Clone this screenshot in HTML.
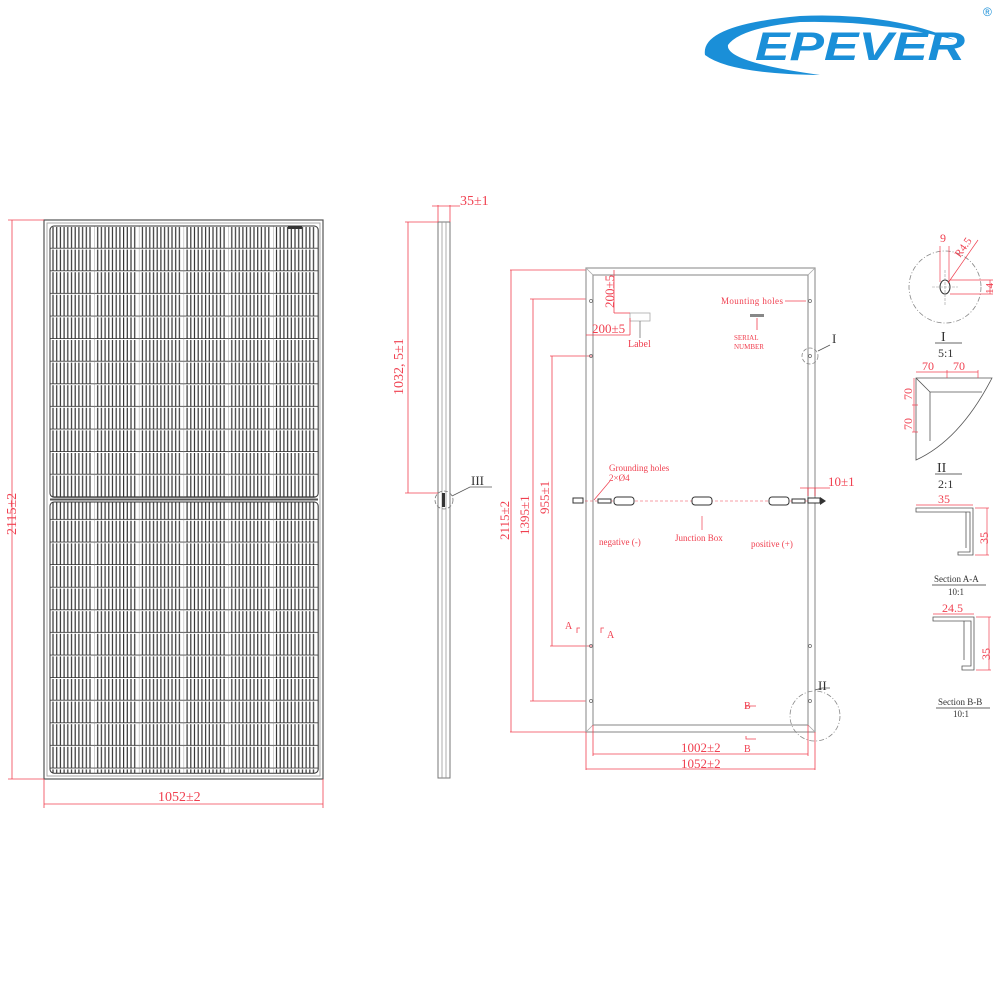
<!DOCTYPE html>
<html><head><meta charset="utf-8"><style>
html,body{margin:0;padding:0;background:#fff}
svg{display:block}
text{font-family:"Liberation Serif",serif;fill:#f04050}
</style></head><body>
<svg width="1000" height="1000" viewBox="0 0 1000 1000" xmlns="http://www.w3.org/2000/svg">
<defs>
<pattern id="cells" x="50" y="226" width="44.7" height="22.6" patternUnits="userSpaceOnUse">
  <rect x="0" y="0" width="44.7" height="22.6" fill="#fff"/>
  <g stroke="#333" stroke-width="1.2">
    <line x1="3" y1="1" x2="3" y2="22"/><line x1="6.7" y1="1" x2="6.7" y2="22"/><line x1="10.4" y1="1" x2="10.4" y2="22"/><line x1="14.1" y1="1" x2="14.1" y2="22"/><line x1="17.8" y1="1" x2="17.8" y2="22"/><line x1="21.5" y1="1" x2="21.5" y2="22"/><line x1="25.2" y1="1" x2="25.2" y2="22"/><line x1="28.9" y1="1" x2="28.9" y2="22"/><line x1="32.6" y1="1" x2="32.6" y2="22"/><line x1="36.3" y1="1" x2="36.3" y2="22"/><line x1="40" y1="1" x2="40" y2="22"/>
  </g>
  <line x1="0" y1="22.6" x2="44.7" y2="22.6" stroke="#222" stroke-width="1.5"/>
  <line x1="44.7" y1="0" x2="44.7" y2="22.6" stroke="#888" stroke-width="0.8"/>
</pattern>
</defs>

<!-- Logo -->
<path d="M800 16 Q890 12 955 40 Q880 20 800 22 Q740 28 728 45 Q725 62 820 75 Q730 74 705 55 Q700 25 800 16Z" fill="#1a8fd8"/>
<text x="755" y="60" style="font-family:'Liberation Sans',sans-serif;font-weight:bold;font-style:italic;font-size:40px;fill:#1a8fd8" textLength="210" lengthAdjust="spacingAndGlyphs">EPEVER</text>
<text x="983" y="16" style="font-family:'Liberation Sans',sans-serif;font-size:12px;fill:#1a8fd8">®</text>

<!-- Front view -->
<rect x="44" y="220" width="279" height="559" fill="none" stroke="#555" stroke-width="1.2"/>
<rect x="47" y="223" width="273" height="553" fill="none" stroke="#aaa" stroke-width="1"/>
<rect x="50" y="226" width="268.2" height="271.2" fill="url(#cells)" stroke="#333" stroke-width="1" rx="4"/>
<rect x="50" y="502" width="268.2" height="271.2" fill="url(#cells)" stroke="#333" stroke-width="1" rx="4"/>
<line x1="50" y1="499.5" x2="318" y2="499.5" stroke="#555" stroke-width="2"/>
<rect x="288" y="226" width="14" height="3" fill="#333"/>
<g stroke="#f04050" stroke-width="0.8" fill="none">
<line x1="8" y1="220" x2="44" y2="220"/><line x1="8" y1="779" x2="44" y2="779"/><line x1="12" y1="220" x2="12" y2="779"/>
<line x1="44" y1="779" x2="44" y2="808"/><line x1="323" y1="779" x2="323" y2="808"/><line x1="44" y1="804" x2="323" y2="804"/>
</g>
<text x="0" y="0" font-size="14" transform="translate(16,535) rotate(-90)">2115±2</text>
<text x="158" y="801" font-size="14">1052±2</text>

<!-- Side view -->
<rect x="438" y="222" width="12" height="556" fill="none" stroke="#777" stroke-width="1"/>
<line x1="442" y1="222" x2="442" y2="778" stroke="#999" stroke-width="0.8"/>
<line x1="446" y1="222" x2="446" y2="778" stroke="#999" stroke-width="0.8"/>
<rect x="442" y="493" width="3" height="14" fill="#333"/>
<circle cx="444" cy="500" r="9" fill="none" stroke="#777" stroke-width="0.8" stroke-dasharray="4 2"/>
<polyline points="452,496 470,487 492,487" fill="none" stroke="#555" stroke-width="0.8"/>
<text x="471" y="485" font-size="13" style="fill:#333">III</text>
<g stroke="#f04050" stroke-width="0.8" fill="none">
<line x1="438" y1="205" x2="438" y2="222"/><line x1="450" y1="205" x2="450" y2="222"/><line x1="432" y1="206" x2="460" y2="206"/>
<line x1="405" y1="222" x2="438" y2="222"/><line x1="405" y1="493" x2="438" y2="493"/><line x1="408" y1="222" x2="408" y2="493"/>
<line x1="510" y1="270" x2="586" y2="270"/><line x1="510" y1="732" x2="586" y2="732"/><line x1="511" y1="270" x2="511" y2="732"/>
<line x1="530" y1="299" x2="586" y2="299"/><line x1="530" y1="701" x2="586" y2="701"/><line x1="533" y1="299" x2="533" y2="701"/>
<line x1="550" y1="356" x2="592" y2="356"/><line x1="550" y1="646" x2="592" y2="646"/><line x1="552" y1="356" x2="552" y2="646"/>
</g>
<text x="460" y="205" font-size="14">35±1</text>
<text x="0" y="0" font-size="14" transform="translate(403,395) rotate(-90)">1032, 5±1</text>
<text x="0" y="0" font-size="13" transform="translate(509,540) rotate(-90)">2115±2</text>
<text x="0" y="0" font-size="13" transform="translate(529,535) rotate(-90)">1395±1</text>
<text x="0" y="0" font-size="13" transform="translate(549,514) rotate(-90)">955±1</text>

<!-- Back view -->
<rect x="586" y="268" width="229" height="464" fill="none" stroke="#999" stroke-width="1.2"/>
<rect x="593" y="275" width="215" height="450" fill="none" stroke="#999" stroke-width="1.2"/>
<g stroke="#aaa" stroke-width="0.8"><line x1="586" y1="268" x2="593" y2="275"/><line x1="815" y1="268" x2="808" y2="275"/><line x1="586" y1="732" x2="593" y2="725"/><line x1="815" y1="732" x2="808" y2="725"/></g>
<g fill="none" stroke="#666" stroke-width="0.7">
<circle cx="591" cy="301" r="1.5"/><circle cx="810" cy="301" r="1.5"/><circle cx="591" cy="356" r="1.5"/><circle cx="810" cy="356" r="1.5"/>
<circle cx="591" cy="646" r="1.5"/><circle cx="810" cy="646" r="1.5"/><circle cx="591" cy="701" r="1.5"/><circle cx="810" cy="701" r="1.5"/>
</g>
<circle cx="815" cy="716" r="25" fill="none" stroke="#888" stroke-width="0.8" stroke-dasharray="5 2 1 2"/>
<polyline points="815,690 822,688 830,688" fill="none" stroke="#555" stroke-width="0.8"/>
<text x="818" y="690" font-size="13" style="fill:#333">II</text>
<circle cx="810" cy="356" r="8" fill="none" stroke="#888" stroke-width="0.8" stroke-dasharray="4 2"/>
<line x1="818" y1="351" x2="830" y2="345" stroke="#555" stroke-width="0.8"/>
<text x="832" y="343" font-size="13" style="fill:#333">I</text>
<rect x="630" y="313" width="20" height="8" fill="none" stroke="#aaa" stroke-width="0.8"/>
<line x1="640" y1="321" x2="640" y2="338" stroke="#777" stroke-width="0.8"/>
<text x="628" y="347" font-size="10">Label</text>
<g stroke="#f04050" stroke-width="0.8" fill="none">
<line x1="614" y1="270" x2="614" y2="313"/><line x1="614" y1="313" x2="630" y2="313"/>
<line x1="586" y1="335" x2="630" y2="335"/><line x1="630" y1="318" x2="630" y2="335"/>
<line x1="785" y1="301" x2="806" y2="301"/>
<line x1="757" y1="318" x2="757" y2="330"/>
</g>
<text x="0" y="0" font-size="13" transform="translate(614,308) rotate(-90)">200±5</text>
<text x="592" y="333" font-size="13">200±5</text>
<text x="721" y="304" font-size="9" letter-spacing="0.4">Mounting holes</text>
<rect x="750" y="314" width="14" height="3" fill="#888"/>
<text x="734" y="340" font-size="7">SERIAL</text><text x="734" y="349" font-size="7">NUMBER</text>
<line x1="585" y1="501" x2="820" y2="501" stroke="#f04050" stroke-width="0.6" stroke-dasharray="3 2"/>
<g fill="#fff" stroke="#333" stroke-width="1">
<rect x="573" y="498" width="10" height="5"/><rect x="614" y="497" width="20" height="8" rx="3"/><rect x="692" y="497" width="20" height="8" rx="3"/><rect x="769" y="497" width="20" height="8" rx="3"/>
<rect x="598" y="499" width="13" height="4"/><rect x="792" y="499" width="13" height="4"/><rect x="808" y="498" width="12" height="5"/>
</g>
<polygon points="820,497 826,501 820,505" fill="#333"/>
<line x1="594" y1="500" x2="610" y2="481" stroke="#f04050" stroke-width="0.7"/>
<text x="609" y="471" font-size="9">Grounding holes</text>
<text x="609" y="481" font-size="9">2×Ø4</text>
<line x1="702" y1="516" x2="702" y2="530" stroke="#f04050" stroke-width="0.7"/>
<text x="675" y="541" font-size="9">Junction Box</text>
<text x="599" y="545" font-size="9">negative (-)</text>
<text x="751" y="547" font-size="9">positive (+)</text>
<g stroke="#f04050" stroke-width="0.8" fill="none">
<line x1="808" y1="488" x2="808" y2="496"/><line x1="815" y1="488" x2="815" y2="496"/><line x1="800" y1="488" x2="830" y2="488"/>
<polyline points="577,633 577,628 580,628"/><polyline points="601,633 601,628 604,628" />
<polyline points="746,709 746,706 756,706"/><polyline points="746,736 746,739 756,739"/>
<line x1="593" y1="725" x2="593" y2="756"/><line x1="808" y1="725" x2="808" y2="756"/><line x1="593" y1="754" x2="808" y2="754"/>
<line x1="586" y1="732" x2="586" y2="770"/><line x1="815" y1="732" x2="815" y2="770"/><line x1="586" y1="769" x2="815" y2="769"/>
</g>
<text x="828" y="486" font-size="13">10±1</text>
<text x="565" y="629" font-size="10">A</text><text x="607" y="638" font-size="10">A</text>
<text x="744" y="709" font-size="10">B</text><text x="744" y="752" font-size="10">B</text>
<text x="681" y="752" font-size="13">1002±2</text>
<text x="681" y="768" font-size="13">1052±2</text>

<!-- Detail I -->
<circle cx="945" cy="287" r="36" fill="none" stroke="#888" stroke-width="0.8" stroke-dasharray="5 2 1 2"/>
<ellipse cx="945" cy="287" rx="5" ry="7" fill="none" stroke="#333" stroke-width="1"/>
<g stroke="#999" stroke-width="0.6" stroke-dasharray="3 1"><line x1="932" y1="287" x2="958" y2="287"/><line x1="945" y1="270" x2="945" y2="305"/></g>
<g stroke="#f04050" stroke-width="0.7" fill="none">
<line x1="940" y1="246" x2="940" y2="282"/><line x1="949" y1="246" x2="949" y2="282"/>
<line x1="948" y1="283" x2="978" y2="240"/>
<line x1="950" y1="280" x2="993" y2="280"/><line x1="950" y1="294" x2="993" y2="294"/><line x1="990" y1="280" x2="990" y2="294"/>
</g>
<text x="940" y="242" font-size="12">9</text>
<text x="0" y="0" font-size="11" transform="translate(960,258) rotate(-55)">R4.5</text>
<text x="0" y="0" font-size="11" transform="translate(993,294) rotate(-90)">14</text>
<text x="941" y="341" font-size="14" style="fill:#333">I</text>
<line x1="935" y1="343" x2="962" y2="343" stroke="#333" stroke-width="0.8"/>
<text x="938" y="357" font-size="12" style="fill:#333">5:1</text>

<!-- Detail II -->
<path d="M916 378 L992 378 Q960 440 916 460 Z" fill="none" stroke="#555" stroke-width="0.8"/>
<polyline points="930,392 930,441" fill="none" stroke="#555" stroke-width="0.8"/>
<line x1="916" y1="378" x2="930" y2="392" stroke="#555" stroke-width="0.8"/>
<polyline points="930,392 982,392" fill="none" stroke="#555" stroke-width="0.8"/>
<g stroke="#f04050" stroke-width="0.7" fill="none">
<line x1="916" y1="372" x2="978" y2="372"/><line x1="947" y1="370" x2="947" y2="378"/><line x1="978" y1="370" x2="978" y2="378"/>
<line x1="914" y1="378" x2="914" y2="432"/><line x1="912" y1="405" x2="918" y2="405"/><line x1="912" y1="432" x2="918" y2="432"/>
</g>
<text x="922" y="370" font-size="12">70</text><text x="953" y="370" font-size="12">70</text>
<text x="0" y="0" font-size="12" transform="translate(912,400) rotate(-90)">70</text>
<text x="0" y="0" font-size="12" transform="translate(912,430) rotate(-90)">70</text>
<text x="937" y="472" font-size="14" style="fill:#333">II</text>
<line x1="935" y1="474" x2="962" y2="474" stroke="#333" stroke-width="0.8"/>
<text x="938" y="488" font-size="12" style="fill:#333">2:1</text>

<!-- Section A-A -->
<path d="M916 508 L973 508 L973 555 L958 555 L958 552 L970 552 L970 512 L916 512 Z" fill="none" stroke="#555" stroke-width="0.8"/>
<line x1="966" y1="512" x2="966" y2="548" stroke="#555" stroke-width="0.8"/>
<g stroke="#f04050" stroke-width="0.7" fill="none">
<line x1="916" y1="505" x2="973" y2="505"/><line x1="975" y1="508" x2="989" y2="508"/><line x1="975" y1="555" x2="989" y2="555"/><line x1="987" y1="508" x2="987" y2="555"/>
</g>
<text x="938" y="503" font-size="12">35</text>
<text x="0" y="0" font-size="12" transform="translate(988,544) rotate(-90)">35</text>
<text x="934" y="582" font-size="9" style="fill:#333">Section A-A</text>
<line x1="932" y1="585" x2="986" y2="585" stroke="#333" stroke-width="0.8"/>
<text x="948" y="595" font-size="9" style="fill:#333">10:1</text>

<!-- Section B-B -->
<path d="M933 617 L974 617 L974 670 L962 670 L962 666 L971 666 L971 621 L933 621 Z" fill="none" stroke="#555" stroke-width="0.8"/>
<line x1="964" y1="621" x2="964" y2="660" stroke="#555" stroke-width="0.8"/>
<g stroke="#f04050" stroke-width="0.7" fill="none">
<line x1="933" y1="614" x2="974" y2="614"/><line x1="976" y1="617" x2="991" y2="617"/><line x1="976" y1="670" x2="991" y2="670"/><line x1="989" y1="617" x2="989" y2="670"/>
</g>
<text x="942" y="612" font-size="12">24.5</text>
<text x="0" y="0" font-size="12" transform="translate(990,660) rotate(-90)">35</text>
<text x="938" y="705" font-size="9" style="fill:#333">Section B-B</text>
<line x1="936" y1="708" x2="990" y2="708" stroke="#333" stroke-width="0.8"/>
<text x="953" y="717" font-size="9" style="fill:#333">10:1</text>
</svg>
</body></html>
